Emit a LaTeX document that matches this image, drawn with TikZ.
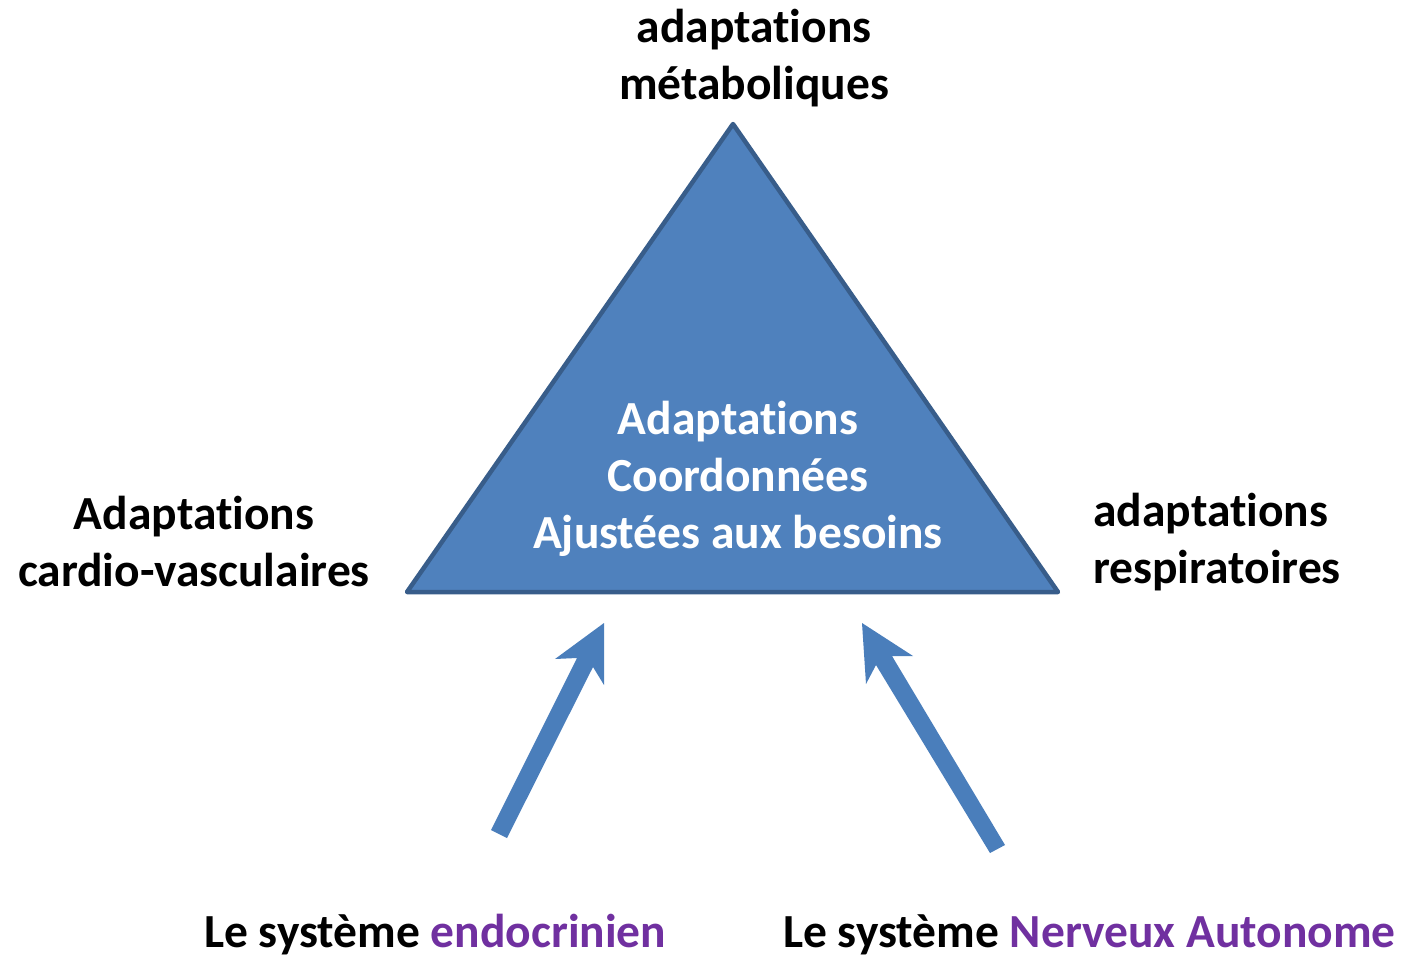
\documentclass[tikz,border=0pt]{standalone}
\usepackage{fontspec}
\setmainfont[Ligatures=NoCommon]{Carlito}
\definecolor{tribg}{HTML}{4F81BD}
\definecolor{triedge}{HTML}{385D8A}
\definecolor{arrowblue}{HTML}{4A7EBB}
\definecolor{purp}{HTML}{7030A0}
\begin{document}
\begin{tikzpicture}[x=1pt,y=-1pt,
  lbl/.style={font=\fontsize{47.5}{57}\selectfont\bfseries, inner sep=0pt, text=black},
  inlbl/.style={lbl, text=white, align=center},
  bigarrow/.style={fill=arrowblue, draw=none}]
\useasboundingbox (0,0) rectangle (1402,958);
% triangle
\coordinate (apex) at (733,124);
\coordinate (bl) at (407,592);
\coordinate (br) at (1058,592);
\draw[fill=tribg, draw=triedge, line width=4.5pt, line join=round] (apex) -- (br) -- (bl) -- cycle;
\node[inlbl] (center) at (738,479) {Adaptations\\Coordonnées\\Ajustées aux besoins};
% labels
\node[lbl, align=center] (meta) at (754,58) {adaptations\\métaboliques};
\node[lbl, align=center] (cardio) at (194,542) {Adaptations\\cardio-vasculaires};
\node[lbl, align=left, anchor=west] (resp) at (1093,542) {adaptations\\respiratoires};
\node[lbl, anchor=west] (endo) at (204,935) {Le système \textcolor{purp}{endocrinien}};
\node[lbl, anchor=west] (sna) at (783,935) {Le système \textcolor{purp}{Nerveux Autonome}};
% arrow 1
\coordinate (a1tip) at (604,623);
\fill[bigarrow] (a1tip) -- (604,685) -- (593,667) -- (507,838) -- (491,830) -- (577,658) -- (555,659) -- cycle;
% arrow 2
\coordinate (a2tip) at (862,623);
\fill[bigarrow] (a2tip) -- (913,656) -- (892,656) -- (1005,845) -- (990,853) -- (876,665) -- (866,684) -- cycle;
\end{tikzpicture}
\end{document}
